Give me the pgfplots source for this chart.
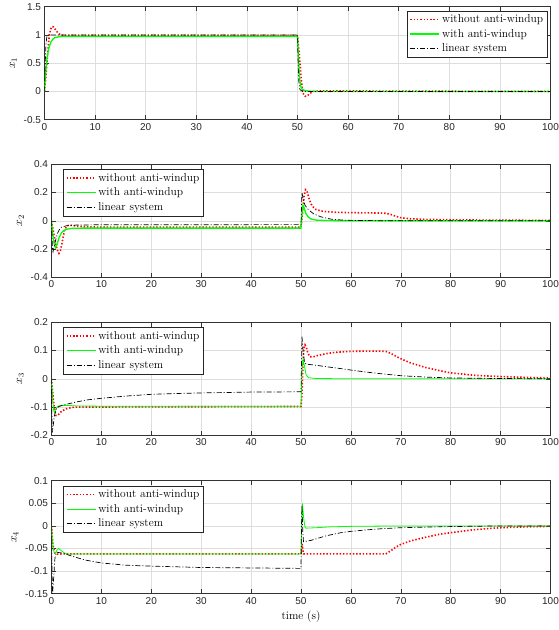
\documentclass[border=0pt]{standalone}
\usepackage{fontspec}
\usepackage{pgfplots}
\pgfplotsset{compat=1.18}
\newfontfamily\ticksf{Liberation Sans}

\pgfplotsset{
  resp/.style={
    scale only axis, height=113pt, anchor=north west,
    xmin=0, xmax=100, xtick={0,10,...,100},
    grid=major, major grid style={black!13, line width=0.5pt},
    axis line style={black!80, line width=0.5pt},
    tick style={black!80, line width=0.5pt},
    major tick length=4.5pt,
    tick label style={font=\ticksf\fontsize{10}{12}\selectfont, text=black!85},
    /pgf/number format/assume math mode=true,
    /pgf/number format/fixed, /pgf/number format/precision=2,
    scaled y ticks=false,
    label style={font=\fontsize{11.5}{13}\selectfont},
    legend style={font=\fontsize{11.5}{13}\selectfont, draw=black!85, line width=0.5pt,
      inner sep=2pt, row sep=1pt, fill=white},
    legend cell align=left,
    legend image code/.code={\draw plot coordinates {(0pt,0pt) (29pt,0pt)};},
  },
  woaw/.style={red, line width=1.6pt, dash pattern=on 1.4pt off 1.9pt},
  waw/.style={green, line width=1.3pt},
  lin/.style={black, line width=0.7pt, dash pattern=on 5pt off 2pt on 1pt off 2pt},
  legright/.style={legend style={at={(0.994,0.965)}, anchor=north east}},
  legleft/.style={legend style={at={(0.024,0.956)}, anchor=north west}},
}

\begin{document}
\begin{tikzpicture}
\useasboundingbox (0,0) rectangle (559pt,-630pt);

% x1
\begin{axis}[resp, legright, at={(44.5pt,-6.7pt)}, width=506pt,
  ymin=-0.5, ymax=1.5, ytick={-0.5,0,0.5,1,1.5}, ylabel={$x_1$}]
\addplot[woaw] coordinates {
(0,0)(0.3,0.3)(0.6,0.65)(0.9,0.95)(1.2,1.1)(1.5,1.15)(1.8,1.14)(2.2,1.09)(2.7,1.03)(3.2,1.0)(4,0.99)
(10,0.99)(30,0.99)(50,0.99)(50.3,0.7)(50.6,0.35)(50.9,0.08)(51.2,-0.05)(51.5,-0.085)(51.9,-0.08)(52.4,-0.04)
(53,0.0)(54,0.008)(60,0.008)(70,0.006)(80,0.003)(90,0.001)(100,0)};
\addplot[waw] coordinates {
(0,0)(0.2,0.3)(0.4,0.5)(0.6,0.64)(0.8,0.74)(1,0.81)(1.3,0.88)(1.6,0.92)(2,0.95)(2.5,0.96)(3,0.97)(4,0.975)
(50,0.975)(50.2,0.55)(50.4,0.25)(50.6,0.1)(50.9,0.04)(51.5,0.015)(52.5,0.005)(54,0)(100,0)};
\addplot[lin] coordinates {
(0,0)(0.1,0.35)(0.2,0.65)(0.3,0.85)(0.45,0.96)(0.6,1.0)(50,1.0)(50.1,0.6)(50.2,0.3)(50.3,0.12)(50.5,0.03)
(51,0)(100,0)};
\legend{without anti-windup, with anti-windup, linear system}
\end{axis}

% x2
\begin{axis}[resp, legleft, at={(51.5pt,-164.3pt)}, width=499pt,
  ymin=-0.4, ymax=0.4, ytick={-0.4,-0.2,0,0.2,0.4}, ylabel={$x_2$}]
\addplot[woaw] coordinates {
(0,0)(0.4,-0.08)(0.8,-0.16)(1.2,-0.21)(1.5,-0.23)(1.8,-0.21)(2.2,-0.14)(2.6,-0.07)(3,-0.04)(3.5,-0.03)
(4,-0.032)(5,-0.038)(7,-0.043)(10,-0.045)(50,-0.045)(50.3,0.05)(50.6,0.17)(50.9,0.22)(51.2,0.21)(51.6,0.16)
(52,0.12)(52.5,0.095)(53,0.08)(54,0.07)(55,0.065)(57,0.06)(60,0.058)(63,0.056)(66,0.055)(67,0.053)(68,0.045)
(69,0.032)(70,0.022)(72,0.014)(75,0.01)(80,0.007)(90,0.004)(100,0.003)};
\addplot[waw] coordinates {
(0,0)(0.2,-0.08)(0.5,-0.16)(0.8,-0.19)(1.1,-0.17)(1.5,-0.12)(2,-0.085)(2.5,-0.068)(3,-0.06)(4,-0.054)
(6,-0.052)(50,-0.052)(50.2,0.05)(50.4,0.11)(50.6,0.095)(51,0.05)(51.5,0.025)(52,0.013)(53,0.005)(55,0.002)
(60,0)(100,0)};
\addplot[lin] coordinates {
(0,0)(0.1,-0.12)(0.2,-0.2)(0.3,-0.22)(0.5,-0.19)(0.8,-0.14)(1.2,-0.09)(1.6,-0.06)(2,-0.045)(3,-0.035)
(5,-0.03)(10,-0.028)(50,-0.027)(50.1,0.1)(50.2,0.2)(50.4,0.16)(50.8,0.11)(51.5,0.078)(52.5,0.05)(54,0.028)
(56,0.012)(58,0.006)(60,0.003)(65,0.001)(70,0)(100,0)};
\legend{without anti-windup, with anti-windup, linear system}
\end{axis}

% x3
\begin{axis}[resp, legleft, at={(51.5pt,-322.3pt)}, width=499pt,
  ymin=-0.2, ymax=0.2, ytick={-0.2,-0.1,0,0.1,0.2}, ylabel={$x_3$},
  waw/.append style={line width=0.8pt}]
\addplot[woaw] coordinates {
(0,0)(0.3,-0.06)(0.6,-0.11)(0.9,-0.13)(1.2,-0.13)(1.6,-0.123)(2,-0.115)(3,-0.106)(4,-0.102)(5,-0.1)
(50,-0.098)(50.2,-0.05)(50.4,0.05)(50.6,0.11)(50.8,0.12)(51.1,0.11)(51.4,0.09)(51.8,0.078)(52.5,0.078)
(53.5,0.083)(55,0.089)(57,0.094)(60,0.097)(63,0.098)(66,0.098)(67,0.097)(68,0.09)(69,0.08)(70,0.071)
(72,0.056)(75,0.04)(78,0.028)(80,0.021)(85,0.012)(90,0.008)(95,0.005)(100,0.003)};
\addplot[waw] coordinates {
(0,0)(0.2,-0.06)(0.4,-0.11)(0.6,-0.12)(0.9,-0.105)(1.3,-0.097)(2,-0.094)(3,-0.094)(5,-0.096)(10,-0.097)
(50,-0.097)(50.2,0.03)(50.4,0.07)(50.7,0.045)(51,0.015)(51.5,0.004)(53,0.001)(60,0)(100,0)};
\addplot[lin] coordinates {
(0,0)(0.05,-0.1)(0.15,-0.19)(0.3,-0.17)(0.6,-0.13)(1,-0.105)(1.5,-0.098)(2,-0.095)(3,-0.09)(5,-0.082)
(7,-0.075)(10,-0.069)(15,-0.061)(20,-0.055)(25,-0.052)(30,-0.05)(40,-0.047)(50,-0.046)(50.1,0.05)(50.2,0.15)
(50.4,0.1)(50.7,0.06)(51,0.052)(53,0.048)(55,0.043)(58,0.036)(60,0.031)(63,0.024)(66,0.018)(70,0.011)
(75,0.006)(80,0.003)(90,0.001)(100,0)};
\legend{without anti-windup, with anti-windup, linear system}
\end{axis}

% x4
\begin{axis}[resp, legleft, at={(51.5pt,-480.7pt)}, width=499pt,
  ymin=-0.15, ymax=0.1, ytick={-0.15,-0.1,-0.05,0,0.05,0.1}, ylabel={$x_4$},
  xlabel={time (s)}, waw/.append style={line width=0.8pt}]
\addplot[woaw] coordinates {
(0,0)(0.2,-0.03)(0.4,-0.05)(0.7,-0.06)(1,-0.062)(1.5,-0.063)(2,-0.062)(50,-0.062)(50.2,-0.04)(50.5,-0.062)
(67,-0.062)(68,-0.055)(69,-0.047)(70,-0.041)(72,-0.033)(75,-0.025)(78,-0.018)(80,-0.015)(85,-0.008)
(90,-0.004)(95,-0.002)(100,-0.001)};
\addplot[waw] coordinates {
(0,0)(0.2,-0.035)(0.5,-0.058)(0.8,-0.06)(1.1,-0.053)(1.4,-0.05)(2,-0.055)(2.6,-0.06)(3.2,-0.062)
(50,-0.062)(50.15,0.0)(50.3,0.05)(50.5,0.02)(50.8,-0.003)(51,-0.005)(53,-0.004)(56,-0.002)(60,-0.001)
(70,0)(100,0)};
\addplot[lin] coordinates {
(0,0)(0.1,-0.1)(0.2,-0.15)(0.4,-0.12)(0.7,-0.07)(1,-0.058)(2,-0.06)(3,-0.063)(5,-0.07)(7,-0.076)
(10,-0.082)(15,-0.087)(20,-0.089)(30,-0.092)(40,-0.093)(50,-0.094)(50.1,0.0)(50.2,0.045)(50.35,-0.01)
(50.5,-0.035)(52,-0.032)(55,-0.022)(58,-0.015)(60,-0.012)(65,-0.007)(70,-0.004)(80,-0.0015)(90,0)(100,0)};
\legend{without anti-windup, with anti-windup, linear system}
\end{axis}
\end{tikzpicture}
\end{document}
